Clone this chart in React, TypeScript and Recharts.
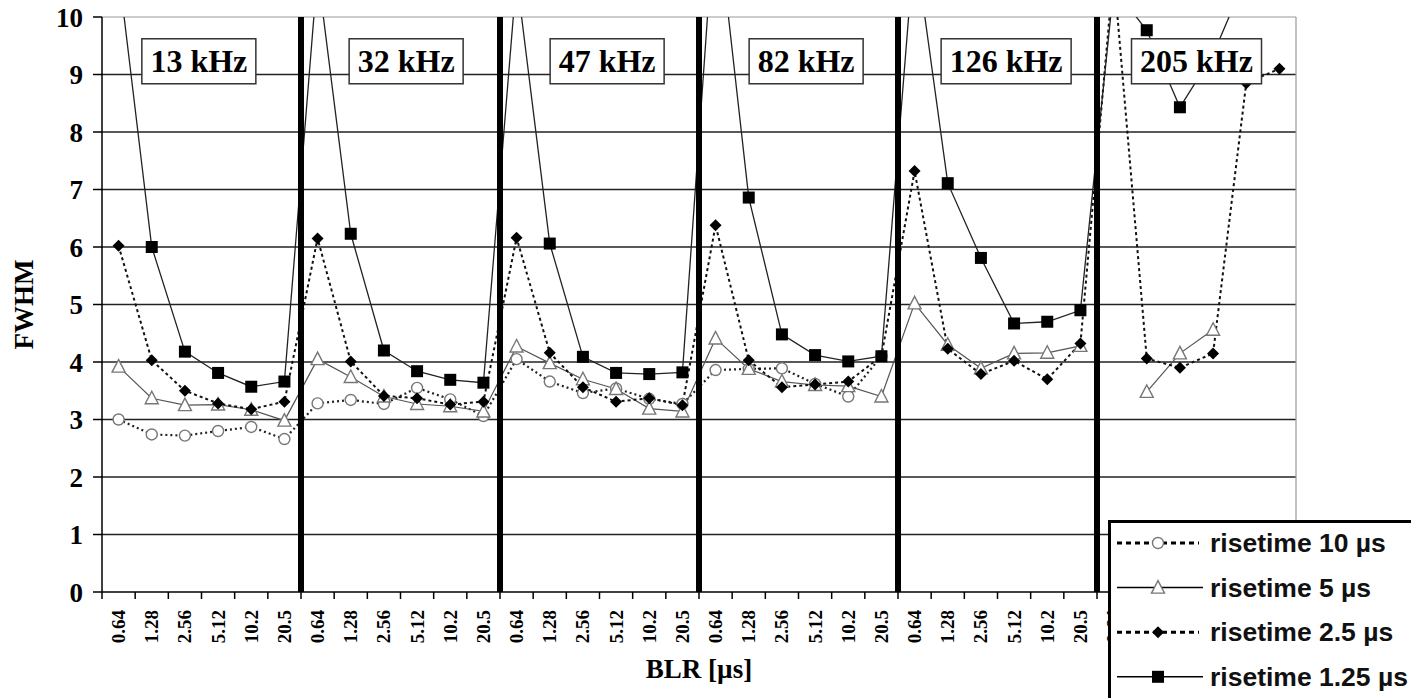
import {
  LineChart,
  Line,
  XAxis,
  YAxis,
  CartesianGrid,
  ReferenceLine,
  ReferenceDot,
  Legend,
} from 'recharts';

// BLR shaping times inside each frequency block
const blrLabels = ['0.64', '1.28', '2.56', '5.12', '10.2', '20.5'];
const frequencies = ['13 kHz', '32 kHz', '47 kHz', '82 kHz', '126 kHz', '205 kHz'];

// FWHM per category (6 frequencies x 6 BLR), null = no point
const rise10 = [
  3.0, 2.74, 2.72, 2.8, 2.87, 2.66,
  3.28, 3.34, 3.27, 3.55, 3.35, 3.06,
  4.05, 3.66, 3.46, 3.54, 3.36, 3.27,
  3.86, 3.88, 3.89, 3.62, 3.4, 4.1,
  null, null, null, null, null, null,
  null, null, null, null, null, null,
];
const rise5 = [
  3.92, 3.37, 3.25, 3.26, 3.17, 2.98,
  4.05, 3.74, 3.4, 3.27, 3.23, 3.14,
  4.27, 3.98, 3.7, 3.53, 3.19, 3.14,
  4.41, 3.88, 3.66, 3.6, 3.58, 3.4,
  5.02, 4.3, 3.89, 4.15, 4.16, 4.28,
  null, 3.48, 4.15, 4.56, null, null,
];
const rise25 = [
  6.02, 4.03, 3.5, 3.28, 3.18, 3.31,
  6.15, 4.01, 3.41, 3.37, 3.26, 3.31,
  6.16, 4.16, 3.56, 3.31, 3.37, 3.25,
  6.38, 4.03, 3.56, 3.61, 3.66, 4.1,
  7.32, 4.23, 3.79, 4.02, 3.7, 4.32,
  10.8, 4.06, 3.9, 4.15, 8.85, 9.1,
];
const rise125 = [
  10.8, 6.0, 4.18, 3.81, 3.57, 3.66,
  10.8, 6.23, 4.2, 3.84, 3.69, 3.64,
  10.7, 6.06, 4.09, 3.81, 3.79, 3.82,
  12.0, 6.86, 4.48, 4.12, 4.01, 4.1,
  11.3, 7.11, 5.81, 4.67, 4.7, 4.9,
  10.5, 9.77, 8.43, 9.35, 10.7, null,
];

const rows = rise10.map((_, i) => ({
  x: i + 0.5,
  blr: blrLabels[i % blrLabels.length],
  r10: rise10[i],
  r5: rise5[i],
  r25: rise25[i],
  r125: rise125[i],
}));

const SERIF = '"Liberation Serif", "Times New Roman", serif';
const SANS = '"Liberation Sans", Arial, sans-serif';

const xTicks = Array.from({ length: rows.length * 2 + 1 }, (_, i) => i / 2);
const yTicks = [0, 1, 2, 3, 4, 5, 6, 7, 8, 9, 10];
const groupEdges = [6, 12, 18, 24, 30];
const freqX = [2.92, 9.17, 15.23, 21.23, 27.26, 33.0];
const freqY = 9.23;

type Marker = 'circle' | 'triangle' | 'diamond' | 'square';

function drawMarker(kind: Marker, cx: number, cy: number) {
  switch (kind) {
    case 'circle':
      return <circle cx={cx} cy={cy} r={5.5} fill="#fff" stroke="#777" strokeWidth={1.4} />;
    case 'triangle':
      return (
        <polygon
          points={`${cx},${cy - 7} ${cx - 6.5},${cy + 5.5} ${cx + 6.5},${cy + 5.5}`}
          fill="#fff"
          stroke="#777"
          strokeWidth={1.4}
        />
      );
    case 'diamond':
      return (
        <polygon
          points={`${cx},${cy - 6} ${cx + 6},${cy} ${cx},${cy + 6} ${cx - 6},${cy}`}
          fill="#000"
        />
      );
    default:
      return <rect x={cx - 6} y={cy - 6} width={12} height={12} fill="#000" />;
  }
}

const series = [
  { key: 'r10', name: 'risetime 10 µs', marker: 'circle' as Marker, stroke: '#222', width: 2.2, dash: '2 3' },
  { key: 'r5', name: 'risetime 5 µs', marker: 'triangle' as Marker, stroke: '#555', width: 1.2, dash: undefined },
  { key: 'r25', name: 'risetime 2.5 µs', marker: 'diamond' as Marker, stroke: '#111', width: 2, dash: '3 3' },
  { key: 'r125', name: 'risetime 1.25 µs', marker: 'square' as Marker, stroke: '#222', width: 1.3, dash: undefined },
];

function BlrTick(props: any) {
  const { x, y, payload } = props;
  const v = payload.value as number;
  if (Number.isInteger(v)) {
    return <line x1={x} y1={y} x2={x} y2={y + 7} stroke="#000" strokeWidth={1.5} />;
  }
  const row = rows[Math.floor(v)];
  return (
    <text
      transform={`translate(${x},${y + 18}) rotate(-90)`}
      textAnchor="end"
      dominantBaseline="central"
      fontFamily={SERIF}
      fontWeight="bold"
      fontSize={19}
      fill="#000"
    >
      {row ? row.blr : ''}
    </text>
  );
}

function FreqBox({ cx, cy, text }: { cx: number; cy: number; text: string }) {
  const digits = text.replace(/\D/g, '').length;
  const w = 16 * digits + 82;
  const h = 45;
  return (
    <g>
      <rect x={cx - w / 2} y={cy - h / 2} width={w} height={h} fill="#fff" stroke="#333" strokeWidth={1.5} />
      <text x={cx} y={cy + 11} textAnchor="middle" fontFamily={SERIF} fontWeight="bold" fontSize={32} fill="#000">
        {text}
      </text>
    </g>
  );
}

function LegendBox() {
  return (
    <div style={{ width: 330, height: 200, border: '3.5px solid #000', background: '#fff', boxSizing: 'border-box' }}>
      <svg width={330} height={200} style={{ display: 'block' }}>
        {series.map((s, i) => {
          const y = 20 + i * 44.6;
          return (
            <g key={s.key}>
              <line
                x1={6}
                y1={y}
                x2={s.dash ? 88 : 92}
                y2={y}
                stroke="#000"
                strokeWidth={s.dash ? 3 : 1.5}
                strokeDasharray={s.dash ? '5 4' : undefined}
              />
              {drawMarker(s.marker, 47, y)}
              <text x={99} y={y} dominantBaseline="central" fontFamily={SANS} fontWeight="bold" fontSize={26.5} fill="#111">
                {s.name}
              </text>
            </g>
          );
        })}
      </svg>
    </div>
  );
}

export default function App() {
  return (
    <div style={{ position: 'absolute', left: 0, top: 0, width: 1411, height: 698, overflow: 'hidden', background: '#fff' }}>
      <LineChart width={1411} height={698} data={rows} margin={{ top: 17, right: 115, bottom: 0, left: 0 }}>
        <CartesianGrid vertical={false} horizontalValues={[1, 2, 3, 4, 5, 6, 7, 8, 9]} stroke="#222" strokeWidth={1.5} />
        <XAxis
          dataKey="x"
          type="number"
          domain={[0, 36]}
          ticks={xTicks}
          interval={0}
          allowDataOverflow
          height={106}
          tickSize={0}
          tickMargin={0}
          tickLine={false}
          tick={(p: any) => <BlrTick {...p} />}
          axisLine={{ stroke: '#000', strokeWidth: 1.5 }}
          label={{
            value: 'BLR [µs]',
            position: 'insideBottom',
            offset: 20,
            style: { fontFamily: SERIF, fontWeight: 'bold', fontSize: 27, fill: '#000' },
          }}
        />
        <YAxis
          type="number"
          domain={[0, 10]}
          ticks={yTicks}
          interval={0}
          allowDataOverflow
          width={102}
          tickSize={9}
          tickMargin={10}
          tick={{ fontFamily: SERIF, fontWeight: 'bold', fontSize: 27, fill: '#000' }}
          tickLine={{ stroke: '#000', strokeWidth: 1.5 }}
          axisLine={{ stroke: '#000', strokeWidth: 1.5 }}
          label={{
            value: 'FWHM',
            angle: -90,
            position: 'insideLeft',
            offset: 23,
            style: { textAnchor: 'middle', fontFamily: SERIF, fontWeight: 'bold', fontSize: 27, fill: '#000' },
          }}
        />
        <ReferenceLine y={10} stroke="#999" strokeWidth={1.2} />
        <ReferenceLine x={36} stroke="#999" strokeWidth={1.2} />
        {series.map((s) => (
          <Line
            key={s.key}
            type="linear"
            dataKey={s.key}
            name={s.name}
            stroke={s.stroke}
            strokeWidth={s.width}
            strokeDasharray={s.dash}
            connectNulls={false}
            activeDot={false}
            isAnimationActive={false}
            dot={(p: any) =>
              p.cx == null || p.cy == null || p.value == null || p.value > 10 ? (
                <g key={p.index} />
              ) : (
                <g key={p.index}>{drawMarker(s.marker, p.cx, p.cy)}</g>
              )
            }
          />
        ))}
        {groupEdges.map((e) => (
          <ReferenceLine key={e} x={e} stroke="#000" strokeWidth={6} zIndex={1500} />
        ))}
        {frequencies.map((f, i) => (
          <ReferenceDot
            key={f}
            x={freqX[i]}
            y={freqY}
            r={0}
            zIndex={1600}
            shape={(p: any) => <FreqBox cx={p.cx} cy={p.cy} text={f} />}
          />
        ))}
        <Legend
          layout="vertical"
          align="center"
          verticalAlign="middle"
          content={() => <LegendBox />}
          wrapperStyle={{ left: 1108, top: 520, width: 330, height: 200 }}
        />
      </LineChart>
    </div>
  );
}
